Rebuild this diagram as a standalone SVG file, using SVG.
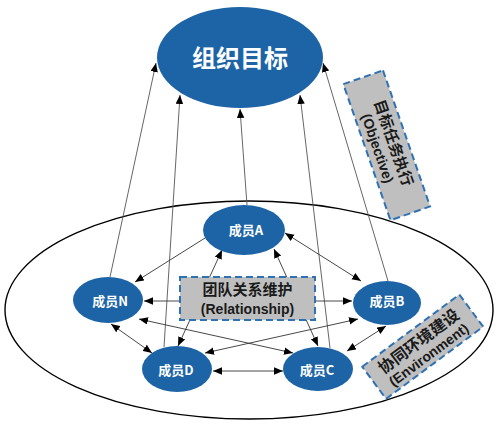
<svg xmlns="http://www.w3.org/2000/svg" width="502" height="426" viewBox="0 0 502 426">
<defs>
<marker id="ah" markerUnits="userSpaceOnUse" markerWidth="10" markerHeight="8" refX="9" refY="3.75" orient="auto-start-reverse">
<path d="M0,0 L9,3.75 L0,7.5 z" fill="#000"/>
</marker>
<style>
.node{fill:#1D64A6;}
.nl{fill:#fff;font-family:"Noto Sans CJK SC","Liberation Sans",sans-serif;font-weight:bold;text-anchor:middle;}
.box{fill:#BFBFBF;stroke:#2E72B4;stroke-width:2;stroke-dasharray:7 4;}
.bt{fill:#1a1a1a;font-family:"Noto Sans CJK SC","Liberation Sans",sans-serif;font-weight:bold;text-anchor:middle;}
.lt{fill:#1a1a1a;font-family:"Liberation Sans",Arial,sans-serif;font-weight:bold;text-anchor:middle;}
.up{stroke:#555;stroke-width:0.9;fill:none;marker-end:url(#ah);}
.dbl{stroke:#333;stroke-width:0.9;fill:none;marker-start:url(#ah);marker-end:url(#ah);}
</style>
</defs>
<rect width="502" height="426" fill="#fff"/>
<ellipse id="outer" cx="249" cy="310" rx="244" ry="109" fill="none" stroke="#000" stroke-width="1.4"/>
<g id="connectors">
<line class="up" x1="110" y1="277" x2="156" y2="63"/>
<line class="up" x1="164" y1="347" x2="180" y2="95"/>
<line class="up" x1="247" y1="205" x2="240" y2="109"/>
<line class="up" x1="330" y1="348" x2="300" y2="95"/>
<line class="up" x1="388" y1="281" x2="323" y2="63"/>
<line class="dbl" x1="135" y1="282" x2="213" y2="233"/>
<line class="dbl" x1="285" y1="233" x2="361" y2="281"/>
<line class="dbl" x1="386" y1="326" x2="347" y2="351"/>
<line class="dbl" x1="283" y1="371" x2="213" y2="371"/>
<line class="dbl" x1="152" y1="353" x2="111" y2="324"/>
<line class="dbl" x1="144" y1="301" x2="352" y2="301"/>
<line class="dbl" x1="139" y1="319" x2="293" y2="353"/>
<line class="dbl" x1="274" y1="249" x2="318" y2="346"/>
<line class="dbl" x1="222" y1="250" x2="178" y2="346"/>
<line class="dbl" x1="358" y1="319" x2="205" y2="353"/>
</g>
<g id="goal">
<ellipse class="node" cx="240" cy="57.5" rx="83" ry="50.5"/>
<text class="nl" x="240" y="67" font-size="24">组织目标</text>
</g>
<g id="memberA">
<ellipse class="node" cx="244" cy="230" rx="41" ry="25"/>
<text class="nl" x="246" y="235" font-size="13">成员A</text>
</g>
<g id="memberN">
<ellipse class="node" cx="108" cy="300" rx="35" ry="23"/>
<text class="nl" x="110" y="306" font-size="13">成员N</text>
</g>
<g id="memberB">
<ellipse class="node" cx="387" cy="303" rx="34" ry="22"/>
<text class="nl" x="387" y="306" font-size="13">成员B</text>
</g>
<g id="memberC">
<ellipse class="node" cx="318" cy="369" rx="35" ry="22"/>
<text class="nl" x="317" y="375" font-size="13">成员C</text>
</g>
<g id="memberD">
<ellipse class="node" cx="177" cy="369" rx="35" ry="23"/>
<text class="nl" x="176" y="375" font-size="13">成员D</text>
</g>
<g id="relationship">
<rect class="box" x="180" y="277" width="135" height="43"/>
<text class="bt" x="247.5" y="295" font-size="15">团队关系维护</text>
<text class="lt" x="247.5" y="313.5" font-size="14">(Relationship)</text>
</g>
<g id="objective" transform="translate(386.7,145.3) rotate(70.9)">
<rect class="box" x="-72" y="-21" width="144" height="42"/>
<text class="bt" x="0" y="-2" font-size="15">目标任务执行</text>
<text class="lt" x="0" y="14.5" font-size="14">(Objective)</text>
</g>
<g id="environment" transform="translate(422.7,346.7) rotate(-36.6)">
<rect class="box" x="-60.5" y="-20" width="121" height="40"/>
<text class="bt" x="0" y="-1" font-size="16">协同环境建设</text>
<text class="lt" x="0" y="15" font-size="14">(Environment)</text>
</g>
</svg>
